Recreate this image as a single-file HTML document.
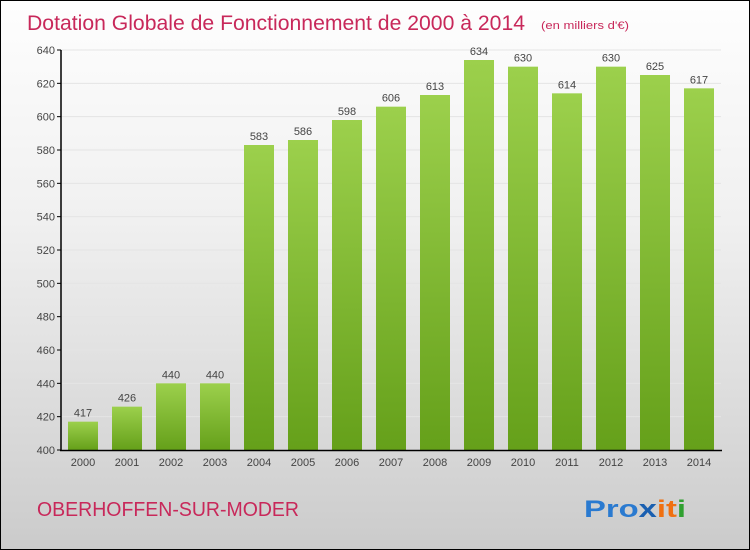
<!DOCTYPE html>
<html><head><meta charset="utf-8">
<style>
body{margin:0;}
#wrap{position:relative;width:748px;height:548px;border:1px solid #000;background:linear-gradient(#fefefe,#f0f0f0 40%,#d8d8d8 80%,#cbcbcb);font-family:"Liberation Sans",sans-serif;overflow:hidden;}
svg{position:absolute;left:0;top:0;}
</style></head><body>
<div id="wrap">
<svg id="chart" width="748" height="548">
<defs>
<linearGradient id="bg" x1="0" y1="0" x2="0" y2="1">
<stop offset="0" stop-color="#9cd04c"/><stop offset="1" stop-color="#65a01a"/>
</linearGradient>
</defs>
<text x="26" y="29" font-size="21" fill="#c8285a" textLength="498" lengthAdjust="spacingAndGlyphs">Dotation Globale de Fonctionnement de 2000 à 2014</text>
<text x="540" y="28" font-size="11" fill="#c8285a" textLength="88" lengthAdjust="spacingAndGlyphs">(en milliers d'€)</text>
<text x="36" y="515" font-size="20" fill="#c8285a" textLength="262" lengthAdjust="spacingAndGlyphs">OBERHOFFEN-SUR-MODER</text>
<text x="583" y="516" font-size="24" font-weight="bold" textLength="102" lengthAdjust="spacingAndGlyphs"><tspan fill="#2a7ad0">Pro</tspan><tspan fill="#1a5fb0">x</tspan><tspan fill="#f07010">it</tspan><tspan fill="#30a030">i</tspan></text>
<g id="grid"></g><g id="bars"></g><g id="axes"></g>
</svg>
</div>
<script>
const years=["2000","2001","2002","2003","2004","2005","2006","2007","2008","2009","2010","2011","2012","2013","2014"];
const values=[417,426,440,440,583,586,598,606,613,634,630,614,630,625,617];
const yTicks=[400,420,440,460,480,500,520,540,560,580,600,620,640];
const NS="http://www.w3.org/2000/svg";
const y0=449,y1=49,vmin=400,vmax=640;
function yScale(v){return y0-(v-vmin)/(vmax-vmin)*(y0-y1);}
function xScale(i){return 82+i*44;}
function mk(t,a,p){const e=document.createElementNS(NS,t);for(const k in a)e.setAttribute(k,a[k]);p.appendChild(e);return e;}
const grid=document.getElementById('grid'),bars=document.getElementById('bars'),axes=document.getElementById('axes');
yTicks.forEach(v=>{
 const y=yScale(v);
 const l=mk('line',{x1:60,x2:720,y1:y,y2:y,stroke:'#e4e4e4','stroke-width':1},grid);
 
 
 const tk=mk('line',{x1:56,x2:60,y1:y,y2:y,stroke:'#000'},axes);
 
 
 const t=mk('text',{x:54,y:y+4,'text-anchor':'end','font-size':11,fill:'#444'},axes);
 t.textContent=v;
 
 
});
values.forEach((v,i)=>{
 const x=xScale(i),y=yScale(v);
 const r=mk('rect',{x:x-15,y:y,width:30,height:y0-y,fill:'url(#bg)'},bars);
 
 
 const t=mk('text',{x:x,y:y-5,'text-anchor':'middle','font-size':11,fill:'#444'},bars);
 t.textContent=v;
 
 
 const xl=mk('text',{x:x,y:465,'text-anchor':'middle','font-size':11,fill:'#444'},axes);
 xl.textContent=years[i];
 
 
});
const ya=mk('line',{x1:60,x2:60,y1:49,y2:y0+1,stroke:'#000','stroke-width':1.5},axes);


const xa=mk('line',{x1:59,x2:721,y1:y0+0.5,y2:y0+0.5,stroke:'#000','stroke-width':1.5},axes);


</script>
</body></html>
